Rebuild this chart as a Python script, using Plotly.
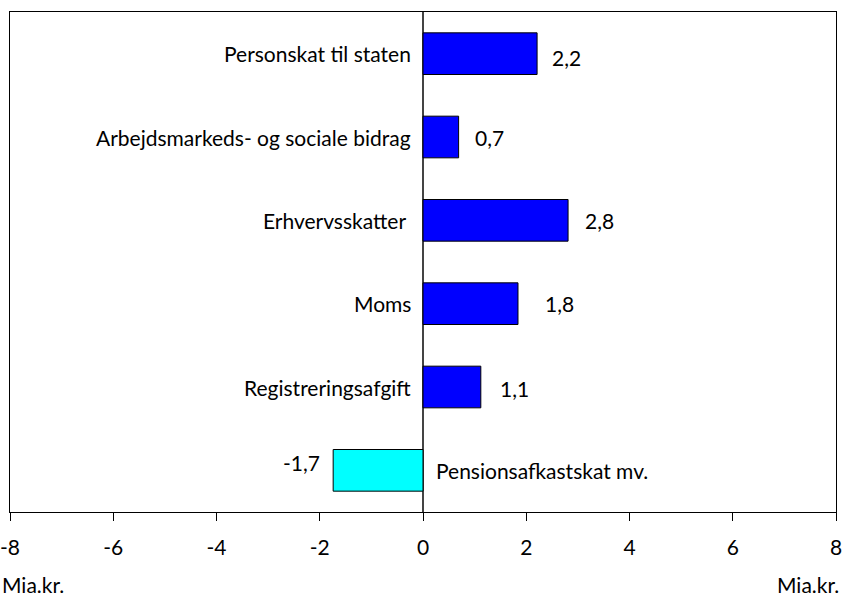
import plotly.graph_objects as go

categories = ["Personskat til staten", "Arbejdsmarkeds- og sociale bidrag", "Erhvervsskatter ",
              "Moms", "Registreringsafgift", "Pensionsafkastskat mv."]
values = [2.2, 0.7, 2.8, 1.8, 1.1, -1.7]
bar_lengths = [2.21, 0.69, 2.81, 1.84, 1.12, -1.74]
value_labels = ["2,2", "0,7", "2,8", "1,8", "1,1", "-1,7"]
x_ticks = [-8, -6, -4, -2, 0, 2, 4, 6, 8]

# label placement styles (pixels)
val_xshift = [13, 14, 15, 25, 17, -11]
val_yshift = [-4, 0, 0, 0, -1, 8]

FONT = "Lato"
FS = 21
positions = list(range(len(categories)))
colors = ["#0000FF" if v >= 0 else "#00FFFF" for v in values]

fig = go.Figure()
fig.add_trace(go.Bar(
    x=bar_lengths, y=positions, orientation="h", width=0.5,
    marker=dict(color=colors, line=dict(color="black", width=1)),
    hoverinfo="skip", showlegend=False,
))

annotations = []
for i, (cat, v, lab) in enumerate(zip(categories, bar_lengths, value_labels)):
    if v >= 0:
        annotations.append(dict(x=0, y=i, xref="x", yref="y", text=cat, showarrow=False,
                                xanchor="right", xshift=-10, font=dict(size=FS, color="black", family=FONT)))
        annotations.append(dict(x=v, y=i, xref="x", yref="y", text=lab, showarrow=False,
                                xanchor="left", xshift=val_xshift[i], yshift=val_yshift[i],
                                font=dict(size=FS, color="black", family=FONT)))
    else:
        annotations.append(dict(x=0, y=i, xref="x", yref="y", text=cat, showarrow=False,
                                xanchor="left", xshift=11, font=dict(size=FS, color="black", family=FONT)))
        annotations.append(dict(x=v, y=i, xref="x", yref="y", text=lab, showarrow=False,
                                xanchor="right", xshift=val_xshift[i], yshift=val_yshift[i],
                                font=dict(size=FS, color="black", family=FONT)))

annotations.append(dict(x=0, y=0, xref="paper", yref="paper", text="Mia.kr.", showarrow=False,
                        xanchor="left", yanchor="top", xshift=-10, yshift=-58,
                        font=dict(size=FS, color="black", family=FONT)))
annotations.append(dict(x=1, y=0, xref="paper", yref="paper", text="Mia.kr.", showarrow=False,
                        xanchor="right", yanchor="top", xshift=5, yshift=-58,
                        font=dict(size=FS, color="black", family=FONT)))

fig.update_layout(
    width=842, height=599,
    margin=dict(l=10, r=6, t=12, b=87, autoexpand=False),
    paper_bgcolor="white", plot_bgcolor="white",
    font=dict(family=FONT, size=FS, color="black"),
    annotations=annotations,
    bargap=0.5,
)
fig.update_xaxes(
    range=[-8, 8], tickvals=x_ticks, ticktext=[str(t) for t in x_ticks],
    showgrid=False, zeroline=True, zerolinecolor="#444444", zerolinewidth=1.5,
    showline=True, linecolor="black", linewidth=1, mirror=True,
    ticks="outside", ticklen=8, tickcolor="black", tickwidth=1,
    ticklabelstandoff=9, automargin=False, ticklabeloverflow="allow",
    tickfont=dict(size=FS, family=FONT), fixedrange=True,
)
fig.update_yaxes(
    range=[5.5, -0.5], showticklabels=False, showgrid=False, zeroline=False,
    showline=True, linecolor="black", linewidth=1, mirror=True, ticks="", fixedrange=True,
    automargin=False,
)

fig.write_html("out.html", config={"displayModeBar": False},
               post_script="document.body.style.margin='0';")
